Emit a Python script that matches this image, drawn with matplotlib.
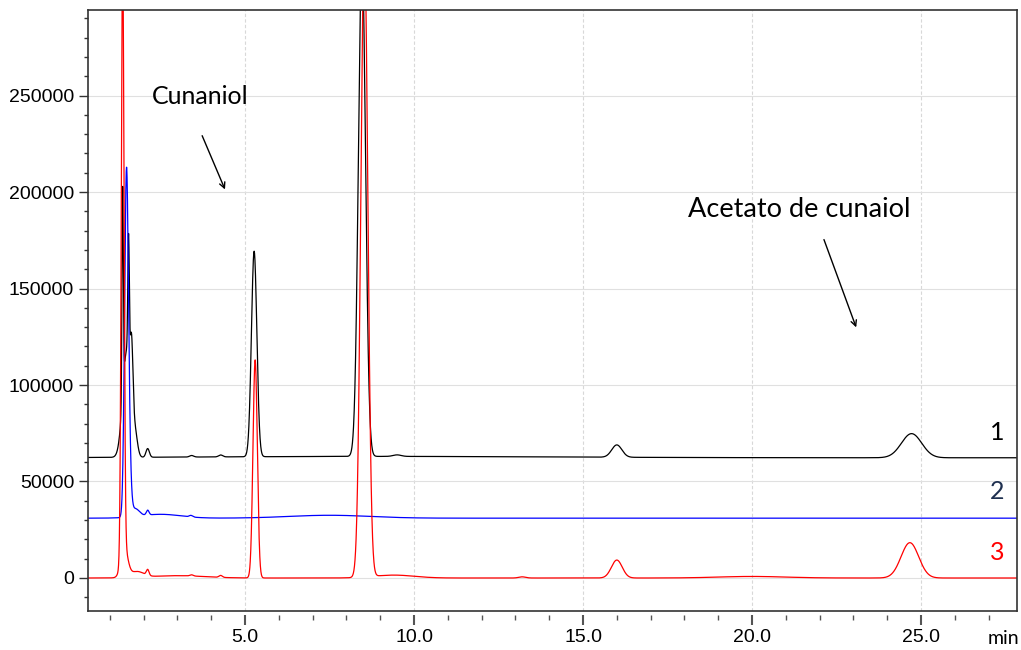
import numpy as np
import matplotlib
matplotlib.use("Agg")
from matplotlib import pyplot as plt
from matplotlib.ticker import MultipleLocator, FormatStrFormatter
from matplotlib import transforms

# retention time (min), height above baseline, peak width (sigma, min)
black_rt = [1.38, 1.50, 1.555, 1.645, 1.75, 2.12, 3.42, 4.28, 5.27, 8.46, 9.5, 9.0, 16.0, 24.72]
black_h = [107000, 55000, 63600, 34000, 10000, 4500, 800, 1000, 106500, 260000, 800, 700, 6400, 12500]
black_w = [0.02, 0.12, 0.022, 0.04, 0.07, 0.05, 0.06, 0.06, 0.08, 0.105, 0.12, 5.0, 0.15, 0.3]
black_base = 62300

blue_rt = [1.49, 1.56, 1.75, 2.5, 2.12, 3.4, 7.5]
blue_h = [165000, 30000, 4000, 2000, 2500, 800, 1500]
blue_w = [0.055, 0.06, 0.12, 0.6, 0.04, 0.05, 1.2]
blue_base = 31000

red_rt = [1.38, 1.43, 1.8, 2.12, 3.0, 3.42, 4.28, 5.30, 8.53, 9.4, 13.2, 16.0, 20.0, 24.67]
red_h = [310000, 15000, 3000, 3000, 1200, 600, 1000, 113000, 330000, 1500, 600, 9300, 800, 18300]
red_w = [0.04, 0.1, 0.2, 0.04, 0.8, 0.05, 0.05, 0.064, 0.103, 0.6, 0.1, 0.16, 1.0, 0.26]
red_base = 0

trace_names = ["1", "2", "3"]
trace_colors = ["black", "blue", "red"]
label_colors = ["black", "#1f3050", "red"]
label_y = [75600, 44600, 13000]

TICK_FONT = 'Liberation Sans'
NOTE_FONT = 'Lato'


def chromatogram(t, base, rts, hs, ws):
    y = np.full_like(t, float(base))
    for rt, h, w in zip(rts, hs, ws):
        y += h * np.exp(-(t - rt) ** 2 / (2 * w ** 2))
    return y


t = np.arange(0.35, 27.9, 0.004)
traces = [
    chromatogram(t, black_base, black_rt, black_h, black_w),
    chromatogram(t, blue_base, blue_rt, blue_h, blue_w),
    chromatogram(t, red_base, red_rt, red_h, red_w),
]

fig = plt.figure(figsize=(10.21, 6.5), dpi=100)
ax = fig.add_axes([0.0862, 0.06, 0.9099, 0.9246])

for y, c in zip(traces, trace_colors):
    ax.plot(t, y, color=c, lw=0.9)

ax.set_xlim(0.355, 27.84)
ax.set_ylim(-17100, 294300)

ax.xaxis.set_major_locator(MultipleLocator(5))
ax.xaxis.set_minor_locator(MultipleLocator(1))
ax.xaxis.set_major_formatter(FormatStrFormatter('%.1f'))
ax.yaxis.set_major_locator(MultipleLocator(50000))
ax.yaxis.set_minor_locator(MultipleLocator(10000))
ax.yaxis.set_major_formatter(FormatStrFormatter('%d'))

# x ticks sit a little below the frame, detached from it
ax.spines['bottom'].set_position(('outward', 3))
ax.spines['bottom'].set_visible(False)
ax.plot([0, 1], [0, 0], transform=ax.transAxes, color='#333333', lw=1.2,
        clip_on=False, zorder=5)

ax.tick_params(axis='x', which='major', length=7, width=1.5, pad=3,
               labelsize=14, color='#555555')
ax.tick_params(axis='x', which='minor', length=3.6, width=1, color='#555555')
ax.tick_params(axis='y', which='major', length=6.5, width=1, pad=3.5,
               labelsize=14, color='#333333')
ax.tick_params(axis='y', which='minor', length=3.2, width=1, color='#333333')
for lab in ax.get_xticklabels() + ax.get_yticklabels():
    lab.set_family(TICK_FONT)

ax.grid(axis='x', which='major', color='#d8d8d8', ls=(0, (3, 2)), lw=0.8)
ax.grid(axis='y', which='major', color='#e0e0e0', ls='-', lw=0.8)
ax.set_axisbelow(True)
for s in ['left', 'right', 'top']:
    ax.spines[s].set_linewidth(1.2)
    ax.spines[s].set_color('#333333')

trans = transforms.blended_transform_factory(ax.transData, ax.transAxes)
ax.text(27.43, -0.046, 'min', transform=trans, ha='center', va='center',
        fontsize=14, family=NOTE_FONT)

ax.text(2.25, 249700, 'Cunaniol', fontsize=18, family=NOTE_FONT, va='center')
ax.annotate('', xy=(4.44, 200000), xytext=(3.70, 230500),
            arrowprops=dict(arrowstyle='->', color='black', lw=1))
ax.text(18.1, 190700, 'Acetato de cunaiol', fontsize=19.5, family=NOTE_FONT, va='center')
ax.annotate('', xy=(23.11, 128500), xytext=(22.1, 176700),
            arrowprops=dict(arrowstyle='->', color='black', lw=1))

for name, c, yl in zip(trace_names, label_colors, label_y):
    ax.text(27.25, yl, name, color=c, fontsize=18, family=NOTE_FONT,
            ha='center', va='center')

fig.savefig('out.png', dpi=100)
